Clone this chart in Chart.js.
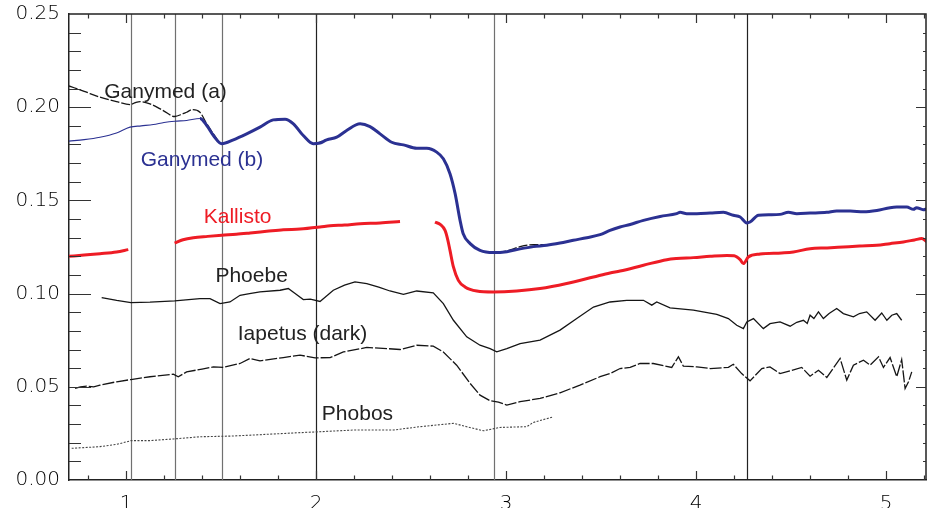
<!DOCTYPE html>
<html>
<head>
<meta charset="utf-8">
<script src="https://cdn.jsdelivr.net/npm/chart.js@4.4.1/dist/chart.umd.min.js"></script>
<style>
  html, body { margin: 0; padding: 0; background: #fff; }
  canvas { display: block; }
</style>
</head>
<body>
<canvas id="albedo" width="927" height="508"></canvas>
<script>
// wavelength (µm) / reflectance pairs per body
const ganymedB = [
  [0.70,0.1818],[0.78,0.1826],[0.863,0.1839],[0.95,0.1862],[1.021,0.1893],[1.08,0.1900],[1.144,0.1907],
  [1.20,0.1918],[1.256,0.1925],[1.319,0.1929],[1.389,0.1939],[1.425,0.1902],[1.46,0.1848],[1.504,0.1804],
  [1.565,0.1825],[1.635,0.1857],[1.705,0.1893],[1.775,0.1932],[1.837,0.1936],[1.881,0.1911],[1.933,0.1848],
  [1.986,0.1804],[2.021,0.1808],[2.056,0.1825],[2.109,0.1839],[2.161,0.1875],[2.232,0.1911],[2.284,0.1896],
  [2.337,0.1857],[2.398,0.1812],[2.460,0.1798],[2.530,0.1780],[2.583,0.1780],[2.635,0.1759],[2.670,0.1723],
  [2.705,0.1643],[2.732,0.1536],[2.758,0.1393],[2.774,0.1323],[2.811,0.1268],[2.863,0.1232],[2.933,0.1220],
  [3.004,0.1225],[3.074,0.1240],[3.144,0.1252],[3.214,0.1259],[3.284,0.1271],[3.354,0.1286],[3.425,0.1300],
  [3.495,0.1316],[3.547,0.1339],[3.600,0.1357],[3.653,0.1371],[3.723,0.1393],[3.811,0.1414],[3.898,0.1429],
  [3.916,0.1436],[3.951,0.1429],[4.004,0.1429],[4.074,0.1432],[4.144,0.1436],[4.196,0.1420],[4.232,0.1411],
  [4.267,0.1379],[4.284,0.1384],[4.328,0.1420],[4.389,0.1423],[4.442,0.1425],[4.486,0.1436],[4.530,0.1429],
  [4.600,0.1432],[4.688,0.1436],[4.740,0.1443],[4.811,0.1443],[4.881,0.1439],[4.951,0.1446],[5.021,0.1461],
  [5.056,0.1464],[5.109,0.1464],[5.144,0.1452],[5.160,0.1461],[5.196,0.1450],[5.216,0.1455]
];
const ganymedA = [
  [0.70,0.2114],[0.78,0.2085],[0.863,0.2054],[0.95,0.2030],[1.021,0.2014],[1.05,0.2025],[1.074,0.2030],
  [1.126,0.2018],[1.196,0.1982],[1.256,0.1950],[1.30,0.1965],[1.319,0.1973],[1.349,0.1987],[1.389,0.1973],
  [1.425,0.1911],[1.46,0.1857],[1.504,0.1804],[1.565,0.1825],[1.635,0.1857],[1.705,0.1893],[1.775,0.1932],
  [1.837,0.1936],[1.881,0.1911],[1.933,0.1848],[1.986,0.1804],[2.056,0.1825],[2.109,0.1839],[2.161,0.1875],
  [2.232,0.1911],[2.284,0.1896],[2.337,0.1857],[2.398,0.1812],[2.460,0.1798],[2.530,0.1780],[2.583,0.1780],
  [2.635,0.1759],[2.670,0.1723],[2.705,0.1643],[2.732,0.1536],[2.758,0.1393],[2.774,0.1323],[2.811,0.1268],
  [2.863,0.1232],[2.933,0.1220],[3.004,0.1229],[3.074,0.1252],[3.144,0.1262],[3.214,0.1262],[3.284,0.1271],
  [3.354,0.1286]
];
const kallisto = [
  [0.70,0.1200],[0.78,0.1207],[0.863,0.1214],[0.95,0.1223],[1.012,0.1236],[1.10,null],
  [1.256,0.1271],[1.30,0.1289],[1.354,0.1300],[1.43,0.1307],[1.504,0.1313],[1.58,0.1318],[1.653,0.1325],
  [1.74,0.1334],[1.828,0.1343],[1.916,0.1346],[2.021,0.1357],[2.074,0.1364],[2.15,0.1368],[2.232,0.1375],
  [2.337,0.1379],[2.442,0.1387],[2.53,null],
  [2.626,0.1384],[2.655,0.1370],[2.679,0.1339],[2.693,0.1290],[2.705,0.1232],[2.723,0.1143],[2.749,0.1071],
  [2.784,0.1036],[2.846,0.1014],[2.932,0.1009],[3.056,0.1014],[3.179,0.1027],
  [3.319,0.1054],[3.460,0.1089],[3.547,0.1111],[3.600,0.1121],[3.723,0.1152],[3.846,0.1182],[3.898,0.1188],
  [3.986,0.1193],[4.074,0.1200],[4.162,0.1205],[4.200,0.1203],[4.232,0.1182],[4.249,0.1161],[4.275,0.1196],
  [4.337,0.1212],[4.45,0.1218],[4.512,0.1223],[4.600,0.1241],[4.690,0.1245],[4.775,0.1250],[4.860,0.1255],
  [4.951,0.1259],[5.02,0.1268],[5.091,0.1277],[5.15,0.1288],[5.188,0.1295],[5.216,0.1277]
];
const phoebe = [
  [0.872,0.0979],[0.951,0.0964],[1.026,0.0952],[1.126,0.0954],[1.256,0.0961],[1.389,0.0973],[1.442,0.0973],
  [1.495,0.0946],[1.547,0.0955],[1.600,0.0991],[1.650,0.1000],[1.705,0.1009],[1.811,0.1018],[1.854,0.1027],
  [1.890,0.1000],[1.933,0.0968],[1.970,0.0970],[2.021,0.0958],[2.091,0.1018],[2.150,0.1045],[2.205,0.1063],
  [2.267,0.1054],[2.330,0.1035],[2.389,0.1014],[2.460,0.0996],[2.530,0.1014],[2.617,0.1004],[2.670,0.0946],
  [2.723,0.0857],[2.793,0.0768],[2.863,0.0723],[2.916,0.0705],[2.951,0.0688],[3.004,0.0705],[3.074,0.0732],
  [3.179,0.0750],[3.284,0.0804],[3.372,0.0866],[3.460,0.0928],[3.547,0.0955],[3.635,0.0964],[3.723,0.0964],
  [3.767,0.0938],[3.793,0.0955],[3.863,0.0923],[3.986,0.0911],[4.109,0.0889],[4.170,0.0866],[4.214,0.0830],
  [4.249,0.0812],[4.267,0.0848],[4.302,0.0866],[4.354,0.0812],[4.389,0.0839],[4.442,0.0848],[4.495,0.0825],
  [4.530,0.0846],[4.565,0.0857],[4.585,0.0840],[4.600,0.0884],[4.620,0.0866],[4.644,0.0902],[4.670,0.0866],
  [4.700,0.0893],[4.740,0.0920],[4.775,0.0893],[4.828,0.0875],[4.860,0.0893],[4.898,0.0902],[4.942,0.0857],
  [4.977,0.0896],[5.004,0.0857],[5.030,0.0884],[5.056,0.0893],[5.082,0.0857]
];
const iapetus = [
  [0.732,0.0491],[0.76,0.0500],[0.793,0.0504],[0.83,0.0500],[0.863,0.0509],[0.951,0.0527],[1.026,0.0539],
  [1.126,0.0554],[1.249,0.0568],[1.275,0.0554],[1.319,0.0580],[1.40,0.0595],[1.46,0.0607],[1.512,0.0604],
  [1.600,0.0625],[1.653,0.0652],[1.705,0.0639],[1.828,0.0657],[1.916,0.0670],[1.995,0.0655],[2.074,0.0657],
  [2.144,0.0687],[2.267,0.0711],[2.372,0.0705],[2.442,0.0700],[2.530,0.0723],[2.617,0.0718],[2.670,0.0687],
  [2.740,0.0616],[2.811,0.0518],[2.863,0.0455],[2.916,0.0425],[2.960,0.0418],[3.004,0.0402],[3.074,0.0420],
  [3.179,0.0438],[3.284,0.0468],[3.389,0.0509],[3.495,0.0554],[3.547,0.0571],[3.600,0.0598],[3.653,0.0604],
  [3.705,0.0625],[3.775,0.0625],[3.872,0.0604],[3.907,0.0661],[3.933,0.0611],[4.004,0.0607],[4.074,0.0598],
  [4.170,0.0604],[4.196,0.0621],[4.240,0.0571],[4.284,0.0532],[4.346,0.0598],[4.389,0.0607],[4.442,0.0571],
  [4.495,0.0586],[4.556,0.0604],[4.600,0.0557],[4.644,0.0589],[4.688,0.0550],[4.758,0.0652],[4.793,0.0536],
  [4.828,0.0616],[4.881,0.0643],[4.916,0.0616],[4.960,0.0661],[4.986,0.0604],[5.021,0.0657],[5.056,0.0554],
  [5.082,0.0646],[5.100,0.0491],[5.118,0.0527],[5.135,0.0580]
];
const phobos = [
  [0.714,0.0170],[0.80,0.0175],[0.863,0.0179],[0.951,0.0191],[1.026,0.0211],[1.126,0.0211],[1.249,0.0220],
  [1.389,0.0232],[1.565,0.0236],[1.740,0.0245],[1.916,0.0254],[2.021,0.0259],[2.196,0.0268],[2.407,0.0268],
  [2.547,0.0286],[2.723,0.0304],[2.793,0.0286],[2.881,0.0264],[2.968,0.0282],[3.109,0.0286],[3.144,0.0309],
  [3.249,0.0339]
];

const xTicks = [1, 2, 3, 4, 5];
const yTicks = [0, 0.05, 0.10, 0.15, 0.20, 0.25];
// absorption band positions marked across the plot
const bandLines = [1.026, 1.258, 1.504, 1.998, 2.937, 4.267];

const toPoints = arr => arr.map(([x, y]) => ({ x, y }));

const BLACK = '#151515';
const BLUE = '#2b3192';
const RED = '#ee1c25';

// curve names, anchored in data units (centre x, baseline y)
const names = [
  { text: 'Ganymed (a)', x: 1.208, y: 0.2052, color: '#222' },
  { text: 'Ganymed (b)', x: 1.400, y: 0.1682, color: BLUE },
  { text: 'Kallisto', x: 1.587, y: 0.1377, color: RED },
  { text: 'Phoebe', x: 1.661, y: 0.1062, color: '#222' },
  { text: 'Iapetus (dark)', x: 1.929, y: 0.0750, color: '#222' },
  { text: 'Phobos', x: 2.218, y: 0.0321, color: '#222' }
];

const axisFont = { family: '"DejaVu Sans"', size: 20, weight: 200 };

const decorations = {
  id: 'decorations',
  beforeDatasetsDraw(chart) {
    const { ctx, chartArea: a, scales: { x } } = chart;
    ctx.save();
    bandLines.forEach((v, i) => {
      const px = Math.round(x.getPixelForValue(v)) + 0.5;
      ctx.strokeStyle = (i === 3 || i === 5) ? '#222' : '#707070';
      ctx.lineWidth = 1.2;
      ctx.beginPath();
      ctx.moveTo(px, a.top);
      ctx.lineTo(px, a.bottom);
      ctx.stroke();
    });
    ctx.restore();
  },
  afterDatasetsDraw(chart) {
    const { ctx, scales: { x, y } } = chart;
    ctx.save();
    ctx.font = '21px "Liberation Sans", Arial, sans-serif';
    ctx.textAlign = 'center';
    ctx.textBaseline = 'alphabetic';
    names.forEach(n => {
      ctx.fillStyle = n.color;
      ctx.fillText(n.text, x.getPixelForValue(n.x), y.getPixelForValue(n.y));
    });
    ctx.restore();
  },
  afterDraw(chart) {
    const { ctx, chartArea: a, scales: { x, y } } = chart;
    ctx.save();
    ctx.strokeStyle = '#222';
    ctx.lineWidth = 1.5;
    // top and right frame
    ctx.beginPath();
    ctx.moveTo(a.left, a.top);
    ctx.lineTo(a.right, a.top);
    ctx.lineTo(a.right, a.bottom);
    ctx.stroke();

    // inward tick marks on all four sides
    ctx.lineWidth = 1.2;
    ctx.strokeStyle = '#333';
    const tick = (x0, y0, x1, y1) => { ctx.moveTo(x0, y0); ctx.lineTo(x1, y1); };
    ctx.beginPath();
    for (let i = 4; i <= 26; i++) {
      const v = i / 5;
      const px = Math.round(x.getPixelForValue(v)) + 0.5;
      if (px <= a.left + 1 || px >= a.right - 1) continue;
      const major = i % 5 === 0;
      tick(px, a.bottom, px, a.bottom - (major ? 9 : 4.5));
      tick(px, a.top, px, a.top + (major ? 9 : 4.5));
    }
    for (let i = 1; i < 25; i++) {
      const py = Math.round(y.getPixelForValue(i / 100)) + 0.5;
      const major = i % 5 === 0;
      tick(a.left, py, a.left + (major ? 22 : 12), py);
      tick(a.right, py, a.right - (major ? 10 : 3), py);
    }
    ctx.stroke();
    ctx.restore();
  }
};

function line(data, color, width, dash) {
  return {
    data: toPoints(data),
    borderColor: color,
    borderWidth: width,
    borderDash: dash || [],
    pointRadius: 0,
    fill: false,
    spanGaps: false
  };
}

const datasets = [
  Object.assign(line(ganymedB, BLUE, 3), {
    cubicInterpolationMode: 'monotone',
    segment: { borderWidth: c => (c.p1.parsed.x <= 1.40 ? 1.1 : 3) }
  }),
  Object.assign(line(ganymedA, BLACK, 1.3, [9, 2]), { cubicInterpolationMode: 'monotone' }),
  Object.assign(line(kallisto, RED, 3), { cubicInterpolationMode: 'monotone' }),
  line(phoebe, BLACK, 1.3),
  line(iapetus, BLACK, 1.3, [12, 2]),
  line(phobos, '#444', 1.1, [2, 1.5])
];

new Chart(document.getElementById('albedo'), {
  type: 'line',
  data: { datasets },
  options: {
    responsive: false,
    animation: false,
    devicePixelRatio: 1,
    layout: { padding: { top: 14, right: 1, left: 0, bottom: 0 } },
    plugins: { legend: { display: false }, tooltip: { enabled: false } },
    scales: {
      x: {
        type: 'linear',
        min: 0.7,
        max: 5.21,
        grid: { display: false },
        border: { color: '#222', width: 1.5 },
        afterBuildTicks: s => { s.ticks = xTicks.map(v => ({ value: v })); },
        afterFit: s => { s.height = 28; },
        ticks: { font: axisFont, color: '#000', padding: 4, maxRotation: 0, autoSkip: false,
                 callback: v => String(v) }
      },
      y: {
        min: 0,
        max: 0.25,
        grid: { display: false },
        border: { color: '#222', width: 1.5 },
        afterBuildTicks: s => { s.ticks = yTicks.map(v => ({ value: v })); },
        afterFit: s => { s.width = 69; },
        ticks: { font: axisFont, color: '#000', padding: 1, autoSkip: false,
                 callback: v => v.toFixed(2) }
      }
    }
  },
  plugins: [decorations]
});
</script>
</body>
</html>
